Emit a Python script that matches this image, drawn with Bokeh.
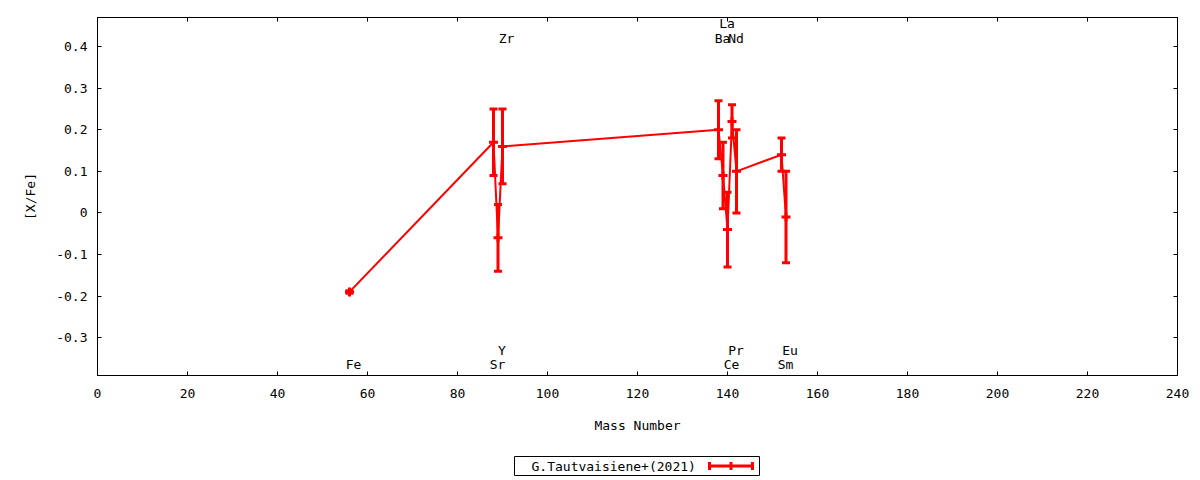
from bokeh.plotting import figure
from bokeh.models import (ColumnDataSource, Whisker, TeeHead, FixedTicker,
                          LinearAxis, Spacer, Range1d, CustomLabelingPolicy)
from bokeh.layouts import column, row
from bokeh.embed import file_html
from bokeh.resources import INLINE
from bokeh.core.properties import value

# ---- data -------------------------------------------------------------
elements = ["Fe", "Sr", "Y", "Zr", "Ba", "La", "Ce", "Pr", "Nd", "Sm", "Eu"]
mass = [56, 88, 89, 90, 138, 139, 140, 141, 142, 152, 153]
xfe = [-0.19, 0.17, -0.06, 0.16, 0.20, 0.09, -0.04, 0.22, 0.10, 0.14, -0.01]
err = [0.003, 0.08, 0.08, 0.09, 0.07, 0.08, 0.09, 0.04, 0.10, 0.04, 0.11]
label_x = [56, 88, 89, 90, 138, 139, 140, 141, 141, 152, 153]
label_row = ["b1", "b1", "b2", "t1", "t1", "t2", "b1", "b2", "t1", "b1", "b2"]

x_ticks = [0, 20, 40, 60, 80, 100, 120, 140, 160, 180, 200, 220, 240]
y_ticks = [-0.3, -0.2, -0.1, 0, 0.1, 0.2, 0.3, 0.4]
y_tick_labels = ["-0.3", "-0.2", "-0.1", "0", "0.1", "0.2", "0.3", "0.4"]
series_name = "G.Tautvaisiene+(2021)"
x_title = "Mass Number"
y_title = "[X/Fe]"

# ---- style ------------------------------------------------------------
FONT = "DejaVu Sans Mono"
FS = "13px"
RED = "#ff0000"
row_y = {"b1": -0.365, "b2": -0.33, "t1": 0.42, "t2": 0.455}

src = ColumnDataSource(dict(
    x=mass, y=xfe,
    upper=[v + e for v, e in zip(xfe, err)],
    lower=[v - e for v, e in zip(xfe, err)],
))
lab_src = ColumnDataSource(dict(
    x=label_x, y=[row_y[r] for r in label_row], text=elements))

p = figure(frame_width=1080, frame_height=358,
           min_border_left=97, min_border_right=20,
           min_border_top=17, min_border_bottom=80,
           x_range=Range1d(0, 240), y_range=Range1d(-0.391, 0.47),
           output_backend="svg", toolbar_location=None)
p.background_fill_color = "white"
p.border_fill_color = "white"
p.outline_line_color = "black"
p.outline_line_width = 1
p.xgrid.visible = False
p.ygrid.visible = False

p.line("x", "y", source=src, line_color=RED, line_width=2)
p.add_layout(Whisker(base="x", upper="upper", lower="lower", source=src,
                     dimension="height", line_color=RED, line_width=3,
                     upper_head=TeeHead(size=8, line_color=RED, line_width=3),
                     lower_head=TeeHead(size=8, line_color=RED, line_width=3)))
p.scatter("x", "y", source=src, marker="cross", size=9,
          line_color=RED, line_width=3, fill_color=RED)

p.text("x", "y", text="text", source=lab_src, text_align="center",
       text_baseline="middle", x_offset=4, text_color="black",
       text_font=value(FONT), text_font_size=FS)


def style_axis(ax, labels=True):
    ax.axis_line_color = "black"
    ax.axis_line_width = 1
    ax.major_tick_in = 4
    ax.major_tick_out = 0
    ax.major_tick_line_color = "black"
    ax.minor_tick_line_color = None
    if labels:
        ax.major_label_text_font = FONT
        ax.major_label_text_font_size = FS
        ax.major_label_text_color = "black"
        ax.major_label_standoff = 10
        ax.axis_label_text_font = FONT
        ax.axis_label_text_font_size = FS
        ax.axis_label_text_font_style = "normal"
        ax.axis_label_text_color = "black"
    else:
        ax.major_label_policy = CustomLabelingPolicy(
            code="for (const i of Array.from(indices)) indices.unset(i); return indices")
        ax.major_label_standoff = 0


p.xaxis.ticker = FixedTicker(ticks=x_ticks)
p.yaxis.ticker = FixedTicker(ticks=y_ticks)
p.yaxis.major_label_overrides = dict(zip(y_ticks, y_tick_labels))
p.xaxis.axis_label = x_title
p.yaxis.axis_label = y_title
for ax in p.xaxis + p.yaxis:
    style_axis(ax)
p.xaxis.major_label_standoff = 13
p.xaxis.axis_label_standoff = 17
p.yaxis.axis_label_standoff = 15

top = LinearAxis(ticker=FixedTicker(ticks=x_ticks))
right = LinearAxis(ticker=FixedTicker(ticks=y_ticks))
style_axis(top, labels=False)
style_axis(right, labels=False)
p.add_layout(top, "above")
p.add_layout(right, "right")

# ---- legend box (gnuplot style: text then symbol) ----------------------
lg = figure(width=247, height=21, min_border=1,
            x_range=Range1d(0, 245), y_range=Range1d(0, 19),
            output_backend="svg", toolbar_location=None)
lg.axis.visible = False
lg.grid.visible = False
lg.outline_line_color = "black"
lg.outline_line_width = 1
lg.background_fill_color = "white"
lg.border_fill_color = "white"
lg.text(x=[17], y=[9.5], text=[series_name], text_align="left",
        text_baseline="middle", text_color="black",
        text_font=value(FONT), text_font_size=FS)
lg.segment(x0=[195], y0=[9.5], x1=[238], y1=[9.5], line_color=RED, line_width=3)
lg.segment(x0=[195, 216.5, 238], y0=[5.5, 5.5, 5.5], x1=[195, 216.5, 238],
           y1=[13.5, 13.5, 13.5], line_color=RED, line_width=3)

layout = column(p, row(Spacer(width=513, height=21), lg))

open("out.html", "w").write(file_html(layout, INLINE))
